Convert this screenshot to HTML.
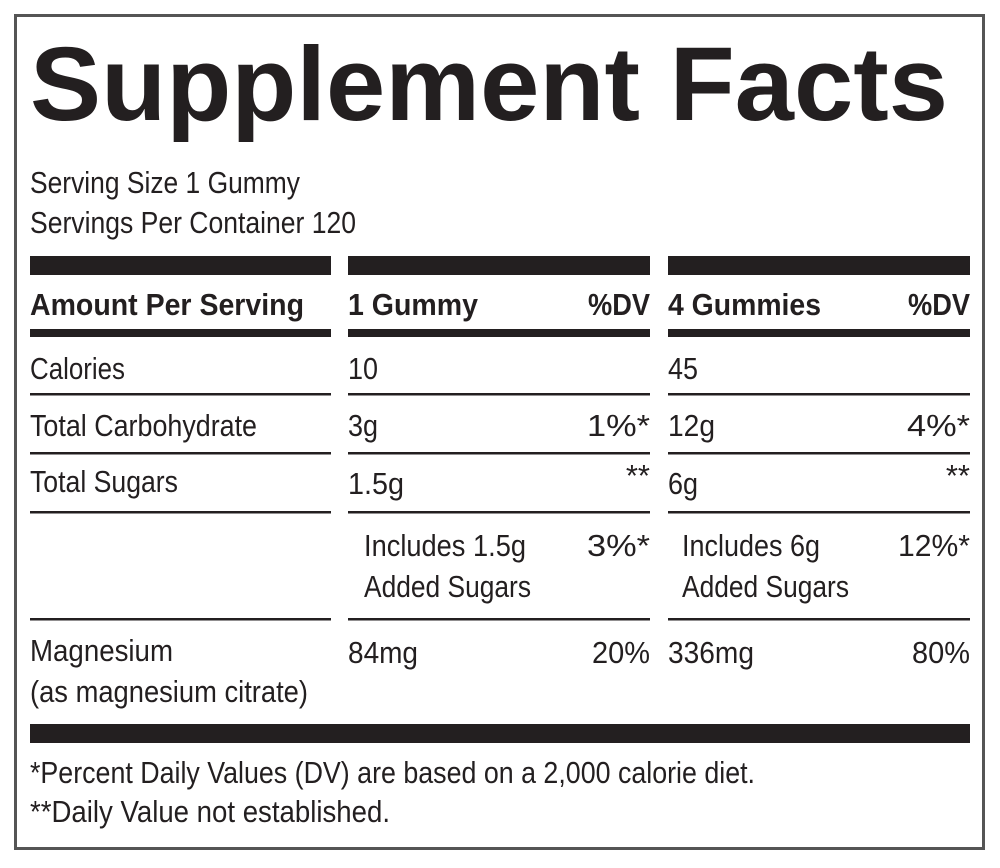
<!DOCTYPE html>
<html><head><meta charset="utf-8"><style>
html,body{margin:0;padding:0;background:#fff;}
svg{display:block}
text{font-family:"Liberation Sans Narrow","Liberation Sans",sans-serif;fill:#231f20;font-size:31px}
.b{font-weight:bold}
</style></head><body>
<svg width="1000" height="868" viewBox="0 0 1000 868" xmlns="http://www.w3.org/2000/svg">
<rect x="15.5" y="15.5" width="968" height="833" fill="#fff" stroke="#555" stroke-width="3"/>
<text x="30" y="120" class="b" style="font-family:'Liberation Sans',sans-serif;font-size:105px" textLength="918" lengthAdjust="spacingAndGlyphs">Supplement Facts</text>
<text x="30" y="193" textLength="270" lengthAdjust="spacingAndGlyphs">Serving Size 1 Gummy</text>
<text x="30" y="233" textLength="326" lengthAdjust="spacingAndGlyphs">Servings Per Container 120</text>
<g fill="#231f20">
<rect x="30" y="256" width="301" height="19"/><rect x="348" y="256" width="302" height="19"/><rect x="668" y="256" width="302" height="19"/>
<rect x="30" y="329" width="301" height="8"/><rect x="348" y="329" width="302" height="8"/><rect x="668" y="329" width="302" height="8"/>
<rect x="30" y="393" width="301" height="2.5"/><rect x="348" y="393" width="302" height="2.5"/><rect x="668" y="393" width="302" height="2.5"/>
<rect x="30" y="452" width="301" height="2.5"/><rect x="348" y="452" width="302" height="2.5"/><rect x="668" y="452" width="302" height="2.5"/>
<rect x="30" y="511" width="301" height="2.5"/><rect x="348" y="511" width="302" height="2.5"/><rect x="668" y="511" width="302" height="2.5"/>
<rect x="30" y="618" width="301" height="2.5"/><rect x="348" y="618" width="302" height="2.5"/><rect x="668" y="618" width="302" height="2.5"/>
<rect x="30" y="724" width="940" height="19"/>
</g>
<text x="30" y="315" class="b" textLength="274" lengthAdjust="spacingAndGlyphs">Amount Per Serving</text>
<text x="348" y="315" class="b" textLength="130" lengthAdjust="spacingAndGlyphs">1 Gummy</text>
<text x="650" y="315" class="b" text-anchor="end" textLength="62" lengthAdjust="spacingAndGlyphs">%DV</text>
<text x="668" y="315" class="b" textLength="153" lengthAdjust="spacingAndGlyphs">4 Gummies</text>
<text x="970" y="315" class="b" text-anchor="end" textLength="62" lengthAdjust="spacingAndGlyphs">%DV</text>
<text x="30" y="379" textLength="95" lengthAdjust="spacingAndGlyphs">Calories</text>
<text x="348" y="379" textLength="30" lengthAdjust="spacingAndGlyphs">10</text><text x="668" y="379" textLength="30" lengthAdjust="spacingAndGlyphs">45</text>
<text x="30" y="436" textLength="227" lengthAdjust="spacingAndGlyphs">Total Carbohydrate</text>
<text x="348" y="436" textLength="30" lengthAdjust="spacingAndGlyphs">3g</text><text x="650" y="436" text-anchor="end" textLength="63" lengthAdjust="spacingAndGlyphs">1%*</text>
<text x="668" y="436" textLength="47" lengthAdjust="spacingAndGlyphs">12g</text><text x="970" y="436" text-anchor="end" textLength="63" lengthAdjust="spacingAndGlyphs">4%*</text>
<text x="30" y="492" textLength="148" lengthAdjust="spacingAndGlyphs">Total Sugars</text>
<text x="348" y="494" textLength="56" lengthAdjust="spacingAndGlyphs">1.5g</text><text x="650" y="486" text-anchor="end">**</text>
<text x="668" y="494" textLength="30" lengthAdjust="spacingAndGlyphs">6g</text><text x="970" y="486" text-anchor="end">**</text>
<text x="364" y="556" textLength="162" lengthAdjust="spacingAndGlyphs">Includes 1.5g</text>
<text x="364" y="597" textLength="167" lengthAdjust="spacingAndGlyphs">Added Sugars</text>
<text x="650" y="556" text-anchor="end" textLength="63" lengthAdjust="spacingAndGlyphs">3%*</text>
<text x="682" y="556" textLength="138" lengthAdjust="spacingAndGlyphs">Includes 6g</text>
<text x="682" y="597" textLength="167" lengthAdjust="spacingAndGlyphs">Added Sugars</text>
<text x="970" y="556" text-anchor="end" textLength="72" lengthAdjust="spacingAndGlyphs">12%*</text>
<text x="30" y="661" textLength="143" lengthAdjust="spacingAndGlyphs">Magnesium</text>
<text x="30" y="702" textLength="278" lengthAdjust="spacingAndGlyphs">(as magnesium citrate)</text>
<text x="348" y="663" textLength="70" lengthAdjust="spacingAndGlyphs">84mg</text><text x="650" y="663" text-anchor="end" textLength="58" lengthAdjust="spacingAndGlyphs">20%</text>
<text x="668" y="663" textLength="86" lengthAdjust="spacingAndGlyphs">336mg</text><text x="970" y="663" text-anchor="end" textLength="58" lengthAdjust="spacingAndGlyphs">80%</text>
<text x="30" y="783" textLength="725" lengthAdjust="spacingAndGlyphs">*Percent Daily Values (DV) are based on a 2,000 calorie diet.</text>
<text x="30" y="822" textLength="360" lengthAdjust="spacingAndGlyphs">**Daily Value not established.</text>
</svg>
</body></html>
